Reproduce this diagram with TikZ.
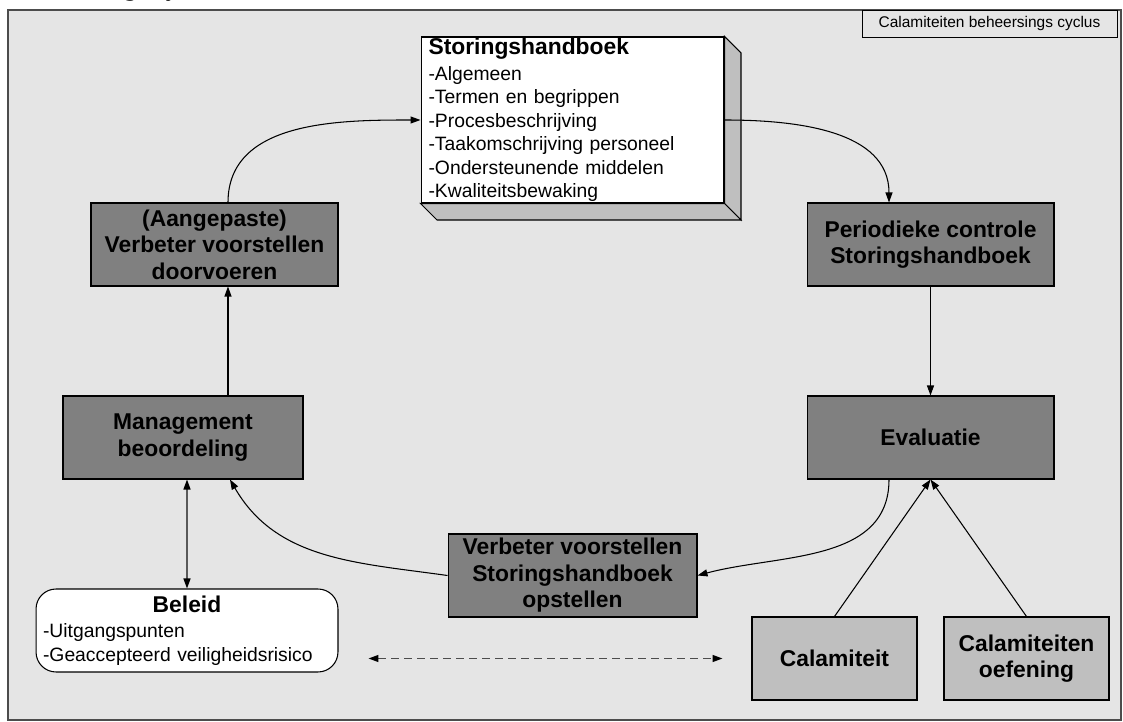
\documentclass[tikz,border=0pt]{standalone}
\usepackage{fontspec}
\setmainfont{Liberation Sans}
\newfontfamily\capfont{Liberation Serif}
\usepackage{xcolor}
\usetikzlibrary{arrows.meta, positioning, calc}

\begin{document}
\begin{tikzpicture}[
    x=0.02cm, y=-0.02cm,
    block/.style={
        rectangle,
        draw=black,
        fill=gray,
        line width=0.6pt,
        minimum width=4.94cm,
        minimum height=1.66cm,
        align=center,
        inner sep=0pt,
        font=\fontsize{13}{15.1}\selectfont\bfseries
    },
    input/.style={
        block,
        fill=gray!50,
        minimum width=3.3cm
    },
    listbox/.style={
        rectangle,
        draw=black,
        fill=white,
        line width=0.6pt,
        align=left,
        inner xsep=0.15cm,
        inner ysep=0pt,
        minimum height=1.66cm,
        font=\fontsize{11}{13.4}\selectfont
    },
    face/.style={
        fill=gray!50,
        draw=black,
        line width=0.6pt
    },
    line/.style={
        draw,
        -{Triangle[length=0.2cm, width=0.14cm]},
        line width=0.6pt,
        black
    },
    biline/.style={
        draw,
        {Triangle[length=0.2cm, width=0.14cm, color=black]}-{Triangle[length=0.2cm, width=0.14cm, color=black]},
        line width=0.8pt,
        gray!70!black
    },
    dashline/.style={
        biline,
        line width=0.8pt,
        gray!60!black,
        dash pattern=on 0.16cm off 0.1cm
    }
]

    \useasboundingbox (0,0) rectangle (1123,722);

    \draw [fill=gray!20, draw=gray!60!black, line width=1.1pt] (8,10) rectangle (1121,720);

    \node [anchor=south east, inner sep=0pt, font=\capfont\itshape\fontsize{15.5}{18}\selectfont] (fig) at (225,2) {Calamiteiten beheersings cyclus};

    \node [draw=black, fill=gray!20, line width=0.5pt, minimum width=5.1cm, minimum height=0.54cm, inner sep=0pt,
        font=\fontsize{8.8}{10}\selectfont] (cap) at (989.5,23.5) {Calamiteiten beheersings cyclus};

    \node [listbox, text width=5.76cm, minimum height=3.32cm] (sh) at (572.5,120) {
        \textbf{\fontsize{13}{15}\selectfont Storingshandboek}\\[1pt]
        -Algemeen\\
        -Termen en begrippen\\
        -Procesbeschrijving\\
        -Taakomschrijving personeel\\
        -Ondersteunende middelen\\
        -Kwaliteitsbewaking
    };

    \fill [face] (sh.north east) -- ++(16.5,16.5) -- ($(sh.south east)+(16.5,16.5)$) -- (sh.south east) -- cycle;
    \fill [face] (sh.south west) -- ++(16.5,16.5) -- ($(sh.south east)+(16.5,16.5)$) -- (sh.south east) -- cycle;

    \node [block] (aanp) at (214.5,244.5) {(Aangepaste)\\Verbeter voorstellen\\doorvoeren};

    \node [block] (period) at (930.5,244.5) {Periodieke controle\\Storingshandboek};

    \node [block, minimum width=4.8cm] (mgmt) at (183,437.5) {Management\\beoordeling};

    \node [block] (eval) at (930.5,437.5) {Evaluatie};

    \node [block, minimum width=4.98cm] (verb) at (572.5,575.5) {Verbeter voorstellen\\Storingshandboek\\opstellen};

    \node [listbox, text width=5.76cm, inner xsep=0.14cm, rounded corners=0.4cm] (beleid) at (187,630.5) {
        \makebox[5.76cm]{\textbf{\fontsize{13}{15}\selectfont Beleid}}\\[1pt]
        -Uitgangspunten\\
        -Geaccepteerd veiligheidsrisico
    };

    \node [input] (calam) at (834.5,658.5) {Calamiteit};

    \node [input] (oef) at (1026.5,658.5) {Calamiteiten\\oefening};

    \draw [line] ([xshift=0.27cm]aanp.north) to[out=90, in=180] (sh.west);
    \draw [line] (sh.east) to[out=0, in=90] ([xshift=-0.83cm]period.north);
    \draw [line] (period.south) -- (eval.north);
    \draw [line] ([xshift=-0.83cm]eval.south) to[out=-90, in=15] (verb.east);
    \draw [line] (calam.north) -- (eval.south);
    \draw [line] (oef.north) -- (eval.south);
    \draw [line] (verb.west) to[out=172, in=-60] ([xshift=0.94cm]mgmt.south);
    \draw [line] ([xshift=0.9cm]mgmt.north) -- ([xshift=0.9cm]mgmt.north |- aanp.south);
    \draw [biline] (beleid.north) -- (beleid.north |- mgmt.south);
    \draw [dashline] ([xshift=0.6cm]beleid.east |- calam.west) -- ([xshift=-0.58cm]calam.west);

\end{tikzpicture}
\end{document}
